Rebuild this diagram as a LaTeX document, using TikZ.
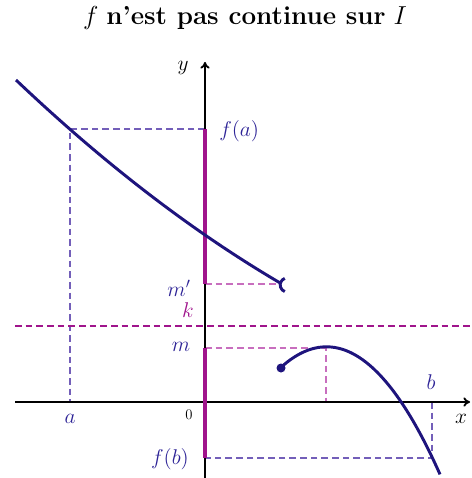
\RequirePackage{fix-cm}
\documentclass[tikz,border=0pt]{standalone}
\usetikzlibrary{arrows.meta}
\definecolor{curvecol}{RGB}{30,20,125}
\definecolor{labcol}{RGB}{45,35,150}
\definecolor{dshcol}{RGB}{115,95,185}
\definecolor{magcol}{RGB}{160,20,140}
\definecolor{lmagcol}{RGB}{200,110,190}
\begin{document}
\begin{tikzpicture}[x=0.75pt,y=-0.75pt,
  axisline/.style={line width=1.4pt,-{To[length=5pt,width=7pt]}},
  fcurve/.style={curvecol,line width=2.2pt},
  guide/.style={dshcol,line width=0.8pt,dash pattern=on 5pt off 3pt},
  mguide/.style={lmagcol,line width=0.8pt,dash pattern=on 5pt off 3pt},
  kguide/.style={magcol,line width=0.8pt,dash pattern=on 5pt off 3pt},
  magseg/.style={magcol,line width=2.6pt},
  lab/.style={text=labcol,inner sep=0pt,font=\fontsize{16}{19}\selectfont},
  axlab/.style={text=black,inner sep=0pt,font=\fontsize{16}{19}\selectfont}]
\useasboundingbox (0,0) rectangle (471,478);
% key points
\coordinate (O) at (205,402);
\coordinate (A) at (70,402);
\coordinate (Pa) at (70,129);
\coordinate (Fa) at (205,129);
\coordinate (Mp) at (205,284);
\coordinate (Pmp) at (281,284);
\coordinate (M) at (205,348);
\coordinate (Pm) at (326,348);
\coordinate (Xm) at (326,402);
\coordinate (B) at (432,402);
\coordinate (Pb) at (432,458);
\coordinate (Fb) at (205,458);
\coordinate (Kl) at (15,326);
\coordinate (Kr) at (471,326);
\coordinate (Xl) at (15,402);
\coordinate (Xr) at (470,402);
\coordinate (Yb) at (205,478);
\coordinate (Yt) at (205,62);
% guides
\draw[guide] (Fa) -- (Pa) -- (A);
\draw[mguide] (Mp) -- (Pmp);
\draw[mguide] (M) -- (Pm) -- (Xm);
\draw[guide] (B) -- (Pb) -- (Fb);
\draw[kguide] (Kl) -- (Kr);
% axes
\draw[axisline] (Xl) -- (Xr);
\draw[axisline] (Yb) -- (Yt);
% magenta segments
\draw[magseg] (Fa) -- (Mp);
\draw[magseg] (M) -- (Fb);
% curves
\draw[fcurve] plot[domain=16:281,samples=60] (\x,{80+0.820*(\x-16)-0.000692*(\x-16)*(\x-205)});
\draw[fcurve] (284.8,278.4) arc[start angle=250,end angle=110,radius=7];
\draw[fcurve] plot[domain=281:440,samples=60] (\x,{346.8+0.0099*(\x-326.5)*(\x-326.5)});
\fill[curvecol] (281,368) circle[radius=4.5];
% labels
\node[font=\fontsize{19.5}{23}\selectfont] (title) at (245,18) {$f$ \textbf{n'est pas continue sur} $I$};
\node[lab,anchor=west] (la) at (219,131) {$f(a)$};
\node[lab] (lmp) at (179,288) {$m'$};
\node[lab,text=magcol] (lk) at (188,310) {$k$};
\node[lab] (lm) at (181,347) {$m$};
\node[lab] (lfb) at (170,459) {$f(b)$};
\node[lab] (lA) at (70,419) {$a$};
\node[lab] (lB) at (431,382) {$b$};
\node[axlab] (lx) at (461,419) {$x$};
\node[axlab] (ly) at (183,68) {$y$};
\node[inner sep=0pt,font=\fontsize{11}{13}\selectfont] (l0) at (189,415) {0};
\end{tikzpicture}
\end{document}
